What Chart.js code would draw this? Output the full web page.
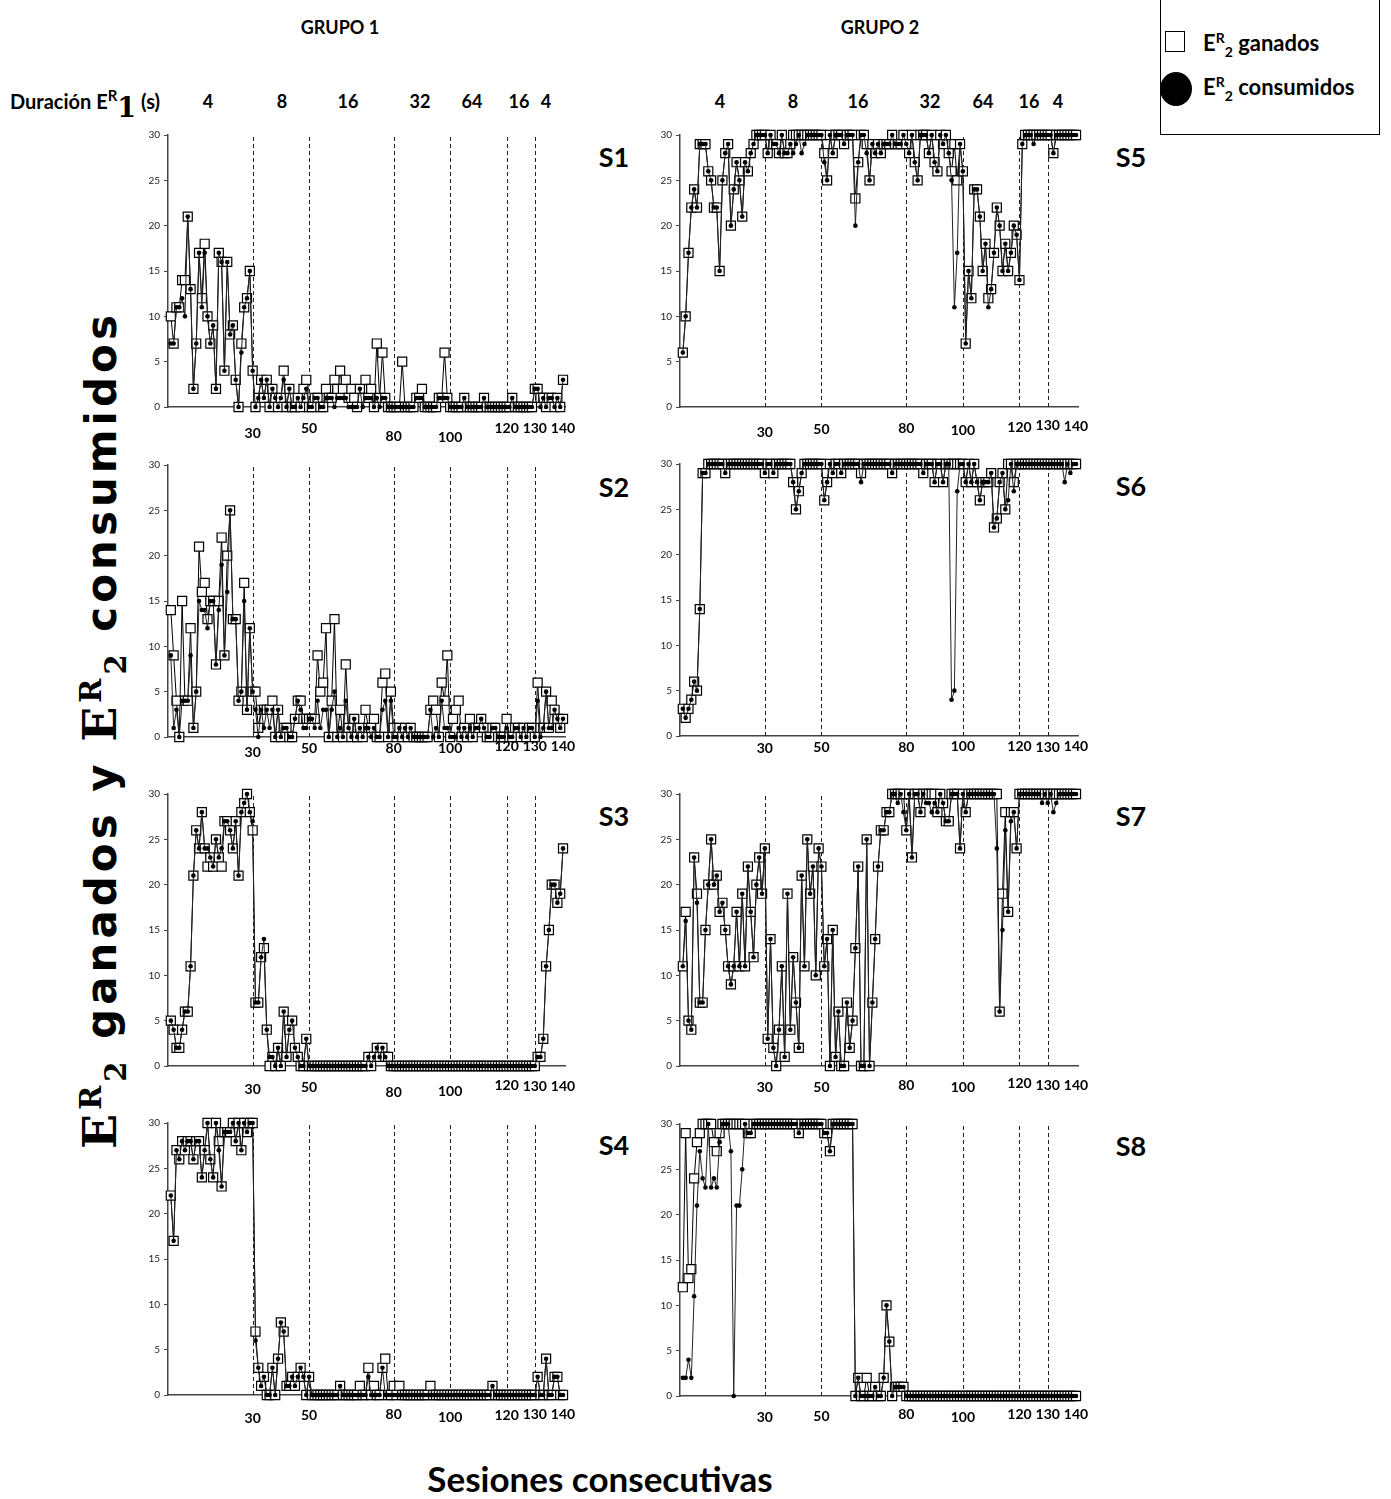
<!DOCTYPE html>
<html>
<head>
<meta charset="utf-8">
<script src="https://cdn.jsdelivr.net/npm/chart.js@4.4.1/dist/chart.umd.min.js"></script>
<style>
  body { margin: 0; width: 1391px; height: 1499px; position: relative; overflow: hidden; background: #fff; font-family: Lato, "Open Sans", sans-serif; }
  .panel { position: absolute; }
  .t { position: absolute; font-weight: bold; color: #000; white-space: nowrap; line-height: 1; }
  .c { transform: translate(-50%, -50%); }
  .s { font-size: 27px; }
  .dur { font-size: 18px; }
  .legend { position: absolute; left: 1160px; top: -1px; width: 218px; height: 134px; border: 1.5px solid #000; }
  .ytitle { position: absolute; left: 103px; top: 730px; transform: translate(-50%, -50%) rotate(-90deg); font-family: "DejaVu Sans", sans-serif; font-weight: bold; font-size: 42px; letter-spacing: 4px; white-space: nowrap; }
  .ytitle .E { font-family: "DejaVu Serif", serif; font-size: 46px; }
  .ytitle sup, .ytitle sub { font-family: "DejaVu Serif", serif; font-size: 29px; }
</style>
</head>
<body>
<div class="t c" style="left:340px;top:27px;font-size:18px">GRUPO 1</div>
<div class="t c" style="left:880px;top:27px;font-size:18px">GRUPO 2</div>
<div class="t" style="left:10px;top:86px;font-size:20px">Duración E<sup style="font-size:15px">R</sup><span style="font-family:'DejaVu Serif';font-size:27px;position:relative;top:8px">1</span> (s)</div>
<div id="durs"></div>

<div class="legend"></div>
<div style="position:absolute;left:1165px;top:31px;width:18px;height:19px;border:1.3px solid #000;background:#fff"></div>
<div style="position:absolute;left:1160px;top:72px;width:32px;height:34px;border-radius:50%;background:#000"></div>
<div class="t" style="left:1203px;top:31px;font-size:22px">E<sup style="font-size:14px">R</sup><sub style="font-size:14px">2</sub> ganados</div>
<div class="t" style="left:1203px;top:75px;font-size:22px">E<sup style="font-size:14px">R</sup><sub style="font-size:14px">2</sub> consumidos</div>

<div class="ytitle"><span class="E">E</span><sup>R</sup><sub>2</sub> ganados y <span class="E">E</span><sup>R</sup><sub>2</sub> consumidos</div>
<div class="t c" style="left:600px;top:1478px;font-size:35px">Sesiones consecutivas</div>

<script>
// sesiones 1..140
const X_TICKS = [30, 50, 80, 100, 120, 130, 140];
const PHASES = [30, 50, 80, 100, 120, 130];
const DUR_LABELS = ['4', '8', '16', '32', '64', '16', '4'];

// GRUPO 1
const S1_ganados = [10,7,11,11,14,14,21,13,2,7, 17,12,18,10,7,9,2,17,16,4, 16,8,9,3,0,7,11,12,15,4,
  0,1,3,1,3,0,2,1,0,1, 4,0,2,0,0,1,0,2,3,0, 0,1,1,0,0,2,1,1,3,2, 4,2,3,1,2,1,0,2,1,3,
  1,2,0,7,1,6,1,0,0,0, 0,0,5,0,0,0,0,1,1,2, 0,0,0,0,0,1,1,6,1,0, 0,0,0,0,1,0,0,0,0,0,
  0,1,0,0,0,0,0,0,0,0, 0,1,0,0,0,0,0,0,0,2, 2,1,1,0,1,1,0,1,0,3];
const S1_consumidos = [7,7,11,11,12,10,21,13,2,7, 17,11,17,10,7,9,2,17,16,4, 16,8,9,3,0,6,11,12,15,4,
  0,1,3,1,3,0,2,1,0,1, 3,0,2,0,0,1,0,1,2,0, 0,1,1,0,0,1,1,1,0,1, 1,1,1,0,0,0,0,2,0,1,
  1,1,0,1,0,1,1,0,0,0, 0,0,0,0,0,0,0,1,1,1, 0,0,0,0,0,1,1,1,1,0, 0,0,0,0,1,0,0,0,0,0,
  0,1,0,0,0,0,0,0,0,0, 0,1,0,0,0,0,0,0,0,2, 2,0,1,0,1,1,0,1,0,3];

const S2_ganados = [14,9,4,0,15,4,4,12,1,5, 21,16,17,13,15,15,8,15,22,9, 20,25,13,13,4,5,17,3,12,5,
  5,1,3,3,3,3,4,0,3,0, 1,1,0,0,2,4,4,2,2,2, 2,2,9,5,6,12,0,4,13,0, 3,0,8,1,0,2,0,1,0,3,
  1,1,2,0,0,6,7,0,5,1, 0,1,0,1,0,1,0,0,0,0, 0,0,3,4,3,0,6,4,9,0, 2,3,4,0,1,0,2,0,1,1,
  2,1,0,0,1,1,0,0,0,2, 0,0,1,1,0,1,0,1,1,0, 6,1,1,5,1,4,3,2,1,2];
const S2_consumidos = [9,1,3,0,4,4,4,9,1,5, 15,14,14,12,15,15,8,14,19,9, 16,25,13,13,4,5,15,3,12,5,
  3,0,3,1,3,1,3,0,3,0, 1,1,0,0,2,4,3,1,1,2, 2,1,4,1,3,3,0,3,5,0, 1,0,4,1,0,2,0,1,0,1,
  1,0,1,0,0,3,4,0,4,0, 0,1,0,1,0,1,0,0,0,0, 0,0,3,0,1,0,4,1,1,0, 0,0,1,0,1,0,1,0,1,1,
  2,1,0,0,1,1,0,0,0,1, 0,0,1,1,0,1,0,1,1,0, 4,0,1,5,1,1,3,2,1,2];

const S3_ganados = [5,4,2,2,4,6,6,11,21,26, 24,28,24,22,23,22,25,23,22,27, 27,26,24,27,21,28,29,30,28,26,
  7,7,12,13,4,0,1,0,2,0, 6,1,4,5,2,1,0,0,3,0, 0,0,0,0,0,0,0,0,0,0, 0,0,0,0,0,0,0,0,0,0,
  1,0,1,2,1,2,1,1,0,0, 0,0,0,0,0,0,0,0,0,0, 0,0,0,0,0,0,0,0,0,0, 0,0,0,0,0,0,0,0,0,0,
  0,0,0,0,0,0,0,0,0,0, 0,0,0,0,0,0,0,0,0,0, 1,1,3,11,15,20,20,18,19,24];
const S3_consumidos = [5,4,2,2,4,6,6,11,21,26, 24,28,24,24,23,22,25,23,24,27, 27,26,24,27,21,28,29,30,28,27,
  7,7,12,14,4,1,1,0,2,0, 6,1,4,5,2,1,0,0,3,0, 0,0,0,0,0,0,0,0,0,0, 0,0,0,0,0,0,0,0,0,0,
  1,0,1,2,1,2,1,0,0,0, 0,0,0,0,0,0,0,0,0,0, 0,0,0,0,0,0,0,0,0,0, 0,0,0,0,0,0,0,0,0,0,
  0,0,0,0,0,0,0,0,0,0, 0,0,0,0,0,0,0,0,0,0, 1,1,3,11,15,20,20,18,19,24];

const S4_ganados = [22,17,27,26,28,27,28,28,26,28, 28,24,27,30,26,24,30,28,23,29, 29,29,30,28,30,27,30,29,30,30,
  7,3,1,2,0,0,3,0,4,8, 7,1,1,2,1,2,3,2,0,2, 0,0,0,0,0,0,0,0,0,0, 1,0,0,0,0,0,0,1,0,0,
  3,0,1,0,0,3,4,0,0,1, 0,1,0,0,0,0,0,0,0,0, 0,0,1,0,0,0,0,0,0,0, 0,0,0,0,0,0,0,0,0,0,
  0,0,0,0,1,0,0,0,0,0, 0,0,0,0,0,0,0,0,0,0, 2,0,0,4,0,0,2,2,0,0];
const S4_consumidos = [22,17,27,26,28,27,28,28,26,28, 28,24,27,30,26,24,30,27,23,29, 29,29,30,28,30,27,30,29,30,30,
  6,3,1,2,0,0,3,0,4,8, 7,1,1,2,1,2,3,2,0,2, 0,0,0,0,0,0,0,0,0,0, 1,0,0,0,0,0,0,0,0,0,
  2,0,0,0,0,3,0,0,0,0, 0,0,0,0,0,0,0,0,0,0, 0,0,0,0,0,0,0,0,0,0, 0,0,0,0,0,0,0,0,0,0,
  0,0,0,0,1,0,0,0,0,0, 0,0,0,0,0,0,0,0,0,0, 2,0,0,4,0,0,2,2,0,0];

// GRUPO 2
const S5_ganados = [6,10,17,22,24,22,29,29,29,26, 25,22,22,15,25,28,29,20,24,27, 25,21,27,26,28,29,30,30,30,30,
  28,30,29,29,28,30,28,28,29,30, 30,30,30,30,30,30,30,30,30,30, 28,25,30,28,30,30,30,29,30,30, 30,23,27,30,30,29,25,29,28,29,
  28,29,29,29,30,29,29,29,30,29, 28,30,27,25,30,30,30,28,30,27, 26,30,29,30,28,26,29,25,29,26, 7,15,12,24,24,21,15,18,12,13,
  17,22,20,15,18,15,17,20,19,14, 29,30,30,30,30,30,30,30,30,30, 30,28,30,30,30,30,30,30,30,30];
const S5_consumidos = [6,10,17,22,24,22,29,29,29,26, 25,22,22,15,25,28,29,20,24,27, 25,21,27,26,28,29,30,30,30,30,
  28,30,29,29,28,30,28,28,29,28, 29,30,28,29,30,30,30,30,30,30, 27,25,30,28,30,30,30,29,30,30, 30,20,27,30,30,28,25,29,28,29,
  28,29,29,29,30,29,29,29,30,29, 28,30,27,25,30,30,30,28,30,27, 26,30,29,30,28,25,11,17,29,26, 7,15,12,24,24,21,15,18,11,13,
  17,22,20,15,18,15,17,20,19,14, 29,30,30,30,29,30,30,30,30,30, 30,28,30,30,30,30,30,30,30,30];

const S6_ganados = [3,2,3,4,6,5,14,29,29,30, 30,30,30,30,30,29,30,30,30,30, 30,30,30,30,30,30,30,30,30,29,
  30,30,29,30,30,30,30,30,30,28, 25,27,29,30,30,30,30,30,30,30, 26,28,30,29,30,30,29,30,30,30, 30,30,30,29,30,30,30,30,30,30,
  30,30,30,30,29,30,30,30,30,30, 30,30,30,30,30,29,30,30,30,28, 30,30,28,30,30,30,30,30,30,30, 28,30,28,30,28,26,28,28,28,29,
  23,24,28,29,25,30,30,28,30,30, 30,30,30,30,30,30,30,30,30,30, 30,30,30,30,30,30,30,30,30,30];
const S6_consumidos = [3,2,3,4,6,5,14,29,29,30, 30,30,30,30,30,29,30,30,30,30, 30,30,30,30,30,30,30,30,30,29,
  30,30,29,30,30,30,30,30,30,28, 25,27,29,30,30,30,30,30,30,30, 26,28,30,29,30,30,29,30,30,30, 30,30,30,28,30,30,30,30,30,30,
  30,30,30,30,29,30,30,30,30,30, 30,30,30,30,30,29,30,30,30,28, 30,30,28,30,30,4,5,27,30,30, 28,30,28,30,28,26,28,28,28,29,
  23,24,28,29,25,26,30,27,30,30, 30,30,30,30,30,30,30,30,30,30, 30,30,30,30,30,28,30,29,30,30];

const S7_ganados = [11,17,5,4,23,19,7,7,15,20, 25,20,21,17,18,15,11,9,11,17, 11,19,11,22,17,12,20,23,19,24,
  3,14,2,0,4,11,1,19,4,12, 7,2,21,11,25,19,22,10,24,22, 11,14,0,15,1,6,0,0,7,2, 5,13,22,0,0,25,0,7,14,22,
  26,26,28,28,30,30,30,30,30,26, 30,23,30,30,28,30,30,30,30,30, 28,30,29,27,27,30,30,30,24,30, 28,30,30,30,30,30,30,30,30,30,
  30,30,6,19,28,17,28,28,24,30, 30,30,30,30,30,30,30,30,30,30, 30,30,30,30,30,30,30,30,30,30];
const S7_consumidos = [11,16,5,4,23,18,7,7,15,20, 25,20,21,17,18,15,11,9,11,17, 11,19,11,22,17,12,20,23,19,24,
  3,14,2,0,4,11,1,19,4,12, 7,2,21,11,25,19,22,10,24,22, 11,14,0,15,1,6,0,0,7,2, 5,13,22,0,0,25,0,7,14,22,
  26,26,28,28,30,30,29,30,28,26, 30,23,30,30,28,30,29,29,28,29, 28,30,29,27,27,30,30,30,24,30, 28,30,30,30,30,30,30,30,30,30,
  30,24,6,15,26,17,27,28,24,30, 30,30,30,30,30,30,30,29,30,29, 30,28,29,30,30,30,30,30,30,30];

const S8_ganados = [12,29,13,14,24,28,29,30,30,30, 30,28,27,29,30,30,30,30,30,30, 30,30,30,29,29,30,30,30,30,30,
  30,30,30,30,30,30,30,30,30,30, 30,29,30,30,30,30,30,30,30,30, 29,29,27,30,30,30,30,30,30,30, 30,0,2,0,0,2,0,0,1,0,
  0,2,10,6,0,1,1,1,1,0, 0,0,0,0,0,0,0,0,0,0, 0,0,0,0,0,0,0,0,0,0, 0,0,0,0,0,0,0,0,0,0,
  0,0,0,0,0,0,0,0,0,0, 0,0,0,0,0,0,0,0,0,0, 0,0,0,0,0,0,0,0,0,0];
const S8_consumidos = [2,2,4,2,11,21,27,24,23,30, 23,24,23,28,30,30,30,27,0,21, 21,25,30,29,29,30,30,30,30,30,
  30,30,30,30,30,30,30,30,30,30, 30,29,30,30,30,30,30,30,30,30, 29,29,27,30,30,30,30,30,30,30, 30,0,2,0,0,0,0,0,1,0,
  0,2,10,6,0,1,1,1,1,0, 0,0,0,0,0,0,0,0,0,0, 0,0,0,0,0,0,0,0,0,0, 0,0,0,0,0,0,0,0,0,0,
  0,0,0,0,0,0,0,0,0,0, 0,0,0,0,0,0,0,0,0,0, 0,0,0,0,0,0,0,0,0,0];

// dy = distancia de cada etiqueta del eje x bajo el eje (px), como en el original
const PANELS = [
  { name: 'S1', g: S1_ganados, c: S1_consumidos, left: 138, top: 125, dy: [26, 21, 29, 30, 21, 21, 21] },
  { name: 'S2', g: S2_ganados, c: S2_consumidos, left: 138, top: 455, dy: [15, 11, 11, 11, 9, 9, 9] },
  { name: 'S3', g: S3_ganados, c: S3_consumidos, left: 138, top: 784, dy: [23, 21, 26, 25, 19, 20, 20] },
  { name: 'S4', g: S4_ganados, c: S4_consumidos, left: 138, top: 1113, dy: [23, 20, 19, 22, 20, 19, 19] },
  { name: 'S5', g: S5_ganados, c: S5_consumidos, left: 650, top: 125, dy: [25, 22, 21, 23, 20, 18, 19] },
  { name: 'S6', g: S6_ganados, c: S6_consumidos, left: 650, top: 454, dy: [12, 11, 11, 10, 10, 11, 10] },
  { name: 'S7', g: S7_ganados, c: S7_consumidos, left: 650, top: 784, dy: [21, 21, 19, 21, 17, 19, 19] },
  { name: 'S8', g: S8_ganados, c: S8_consumidos, left: 650, top: 1114, dy: [21, 20, 18, 21, 18, 18, 18] },
];

Chart.defaults.font.family = 'Lato, "Open Sans", sans-serif';

// lineas discontinuas de cambio de fase + etiquetas del eje x
const phaseLines = {
  id: 'phaseLines',
  beforeDatasetsDraw(chart) {
    const { ctx, chartArea: a, scales: { x } } = chart;
    ctx.save();
    ctx.strokeStyle = '#222';
    ctx.lineWidth = 1;
    ctx.setLineDash([4, 3]);
    PHASES.forEach((v) => {
      const px = Math.round(x.getPixelForValue(v)) + 0.5;
      ctx.beginPath(); ctx.moveTo(px, a.top + 2); ctx.lineTo(px, a.bottom); ctx.stroke();
    });
    ctx.restore();
  },
  afterDraw(chart, args, opts) {
    const { ctx, chartArea: a, scales: { x } } = chart;
    ctx.save();
    ctx.fillStyle = '#000';
    ctx.font = 'bold 14px Lato, "Open Sans", sans-serif';
    ctx.textAlign = 'center';
    ctx.textBaseline = 'middle';
    X_TICKS.forEach((v, i) => ctx.fillText(String(v), x.getPixelForValue(v), a.bottom + opts.dy[i]));
    ctx.restore();
  },
};

const pts = (arr) => arr.map((v, i) => ({ x: i + 1, y: v }));

// etiquetas de duración arriba
const durX = [[208, 282, 348, 420, 472, 519, 546], [720, 793, 858, 930, 983, 1029, 1058]];
const durHtml = [];
durX.forEach((xs) => xs.forEach((x, i) => {
  durHtml.push(`<div class="t c dur" style="left:${x}px;top:101px">${DUR_LABELS[i]}</div>`);
}));
document.getElementById('durs').innerHTML = durHtml.join('');

PANELS.forEach((p) => {
  const wrap = document.createElement('div');
  wrap.className = 'panel';
  const w = p.left < 600 ? 447 : 448, h = 322;
  wrap.style.cssText = `left:${p.left}px;top:${p.top}px;width:${w}px;height:${h}px`;
  const cv = document.createElement('canvas');
  cv.width = w; cv.height = h;
  wrap.appendChild(cv);
  document.body.appendChild(wrap);

  const lab = document.createElement('div');
  lab.className = 't c s';
  lab.textContent = p.name;
  lab.style.left = (p.left < 600 ? 614 : 1131) + 'px';
  lab.style.top = (p.top + 31) + 'px';
  document.body.appendChild(lab);

  new Chart(cv, {
    type: 'line',
    data: {
      datasets: [
        { label: 'consumidos', data: pts(p.c), order: 0, clip: false, borderColor: '#222', borderWidth: 1,
          pointStyle: 'circle', pointRadius: 2.3, pointBackgroundColor: '#000', pointBorderWidth: 0 },
        { label: 'ganados', data: pts(p.g), order: 1, clip: false, borderColor: '#000', borderWidth: 1,
          pointStyle: 'rect', pointRadius: 6.4, pointBackgroundColor: '#fff', pointBorderColor: '#000', pointBorderWidth: 1.2 },
      ],
    },
    options: {
      responsive: false,
      animation: false,
      layout: { padding: { top: 8, right: 20, left: 0, bottom: 0 } },
      plugins: { legend: { display: false }, tooltip: { enabled: false }, phaseLines: { dy: p.dy } },
      scales: {
        x: {
          type: 'linear', min: 0, max: 140.7,
          afterFit: (s) => { s.height = 40; },
          grid: { display: false },
          border: { color: '#444', width: 1.5 },
          ticks: { display: false },
        },
        y: {
          min: 0, max: 30,
          afterFit: (s) => { s.width = 30; },
          grid: { drawOnChartArea: false, tickLength: 4, color: '#444' },
          border: { color: '#444', width: 1.5 },
          ticks: { stepSize: 5, padding: 4, color: '#222', font: { size: 10 } },
        },
      },
    },
    plugins: [phaseLines],
  });
});
</script>
</body>
</html>
